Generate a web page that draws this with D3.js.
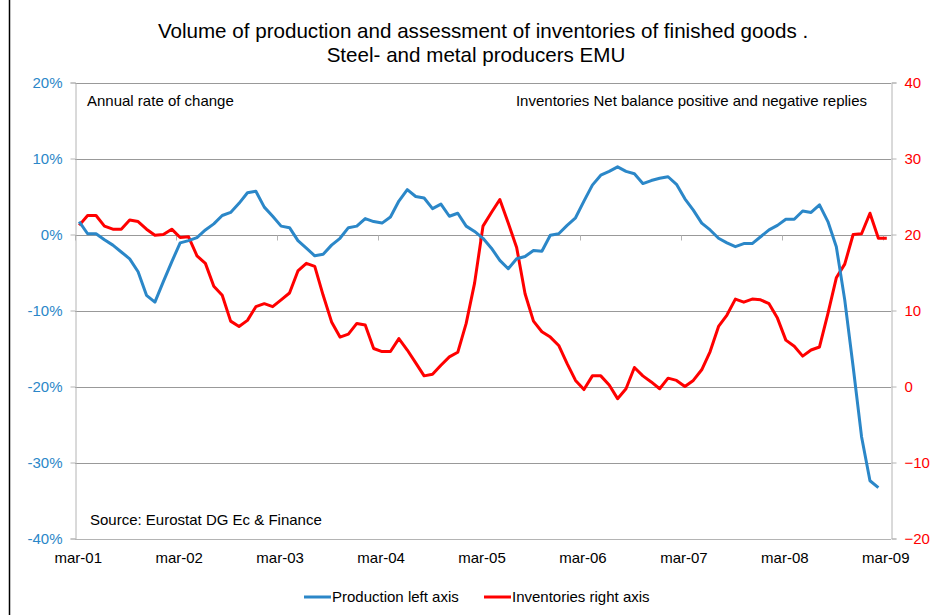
<!DOCTYPE html>
<html>
<head>
<meta charset="utf-8">
<script src="https://cdn.jsdelivr.net/npm/d3@7"></script>
<style>
  body { margin: 0; background: #fff; }
  text { font-family: "Liberation Sans", Arial, Helvetica, sans-serif; }
</style>
</head>
<body>
<div id="chart"></div>
<script>
// monthly series, mar-01 .. mar-09
const monthNames = ['jan','feb','mar','apr','may','jun','jul','aug','sep','oct','nov','dec'];
const months = [];
for (let k = 0; k < 97; k++) {
  const m = (2 + k) % 12;
  const yr = 1 + Math.floor((2 + k) / 12);
  months.push(monthNames[m] + '-' + String(yr).padStart(2, '0'));
}

// production, annual rate of change (%) - left axis
const production = [
  1.7, 0.1, 0.1, -0.7, -1.4, -2.3, -3.2, -4.9, -8.0, -8.9,
  -6.2, -3.6, -1.1, -0.8, -0.4, 0.6, 1.4, 2.5, 2.9, 4.1,
  5.5, 5.7, 3.6, 2.4, 1.1, 0.9, -0.8, -1.8, -2.8, -2.6,
  -1.4, -0.5, 0.9, 1.1, 2.1, 1.7, 1.5, 2.3, 4.4, 5.9,
  5.0, 4.8, 3.4, 4.0, 2.4, 2.8, 1.1, 0.4, -0.5, -1.8,
  -3.4, -4.5, -3.2, -2.9, -2.1, -2.2, -0.1, 0.1, 1.2, 2.2,
  4.4, 6.5, 7.8, 8.3, 8.9, 8.3, 8.0, 6.7, 7.1, 7.4,
  7.6, 6.6, 4.7, 3.2, 1.5, 0.6, -0.5, -1.1, -1.6, -1.2,
  -1.2, -0.3, 0.6, 1.2, 2.0, 2.0, 3.1, 2.9, 3.9, 1.7,
  -1.6, -8.6, -17.4, -26.6, -32.4, -33.3
];

// inventories, net balance - right axis
const inventories = [
  21.2, 22.5, 22.5, 21.1, 20.7, 20.7, 21.9, 21.7, 20.7, 19.9,
  20.0, 20.7, 19.6, 19.7, 17.2, 16.2, 13.2, 12.0, 8.6, 7.9,
  8.7, 10.5, 10.9, 10.5, 11.4, 12.3, 15.2, 16.2, 15.8, 12.0,
  8.5, 6.5, 6.9, 8.3, 8.1, 5.0, 4.6, 4.6, 6.3, 4.8,
  3.1, 1.4, 1.6, 2.8, 3.9, 4.5, 8.3, 13.6, 21.1, 22.9,
  24.6, 21.5, 18.3, 12.2, 8.6, 7.2, 6.5, 5.4, 3.0, 0.8,
  -0.4, 1.4, 1.4, 0.2, -1.6, -0.3, 2.5, 1.4, 0.6, -0.3,
  1.1, 0.8, 0.0, 0.8, 2.2, 4.6, 7.9, 9.4, 11.5, 11.1,
  11.5, 11.4, 10.9, 9.0, 6.1, 5.3, 4.0, 4.8, 5.2, 9.6,
  14.3, 16.1, 20.0, 20.1, 22.8, 19.5, 19.5
];

const leftTicks = [20, 10, 0, -10, -20, -30, -40];
const rightTicks = [40, 30, 20, 10, 0, -10, -20];

const width = 932, height = 615;
const plot = { left: 75, right: 891, top: 82.5, bottom: 538.5 };
const blue = '#2b87c8';
const red = '#ff0000';

const svg = d3.select('#chart').append('svg')
  .attr('width', width)
  .attr('height', height);

// frame
svg.append('line')
  .attr('x1', 9.5).attr('x2', 9.5)
  .attr('y1', 0).attr('y2', height)
  .attr('stroke', '#000').attr('stroke-width', 1.5);

const x = d3.scaleBand()
  .domain(months)
  .range([plot.left, plot.right])
  .padding(0);

const yL = d3.scaleLinear().domain([-40, 20]).range([plot.bottom, plot.top]);
const yR = d3.scaleLinear().domain([-20, 40]).range([plot.bottom, plot.top]);

// gridlines
svg.append('g')
  .selectAll('line')
  .data(leftTicks)
  .join('line')
    .attr('x1', plot.left).attr('x2', plot.right)
    .attr('y1', d => Math.round(yL(d)) + 0.5)
    .attr('y2', d => Math.round(yL(d)) + 0.5)
    .attr('stroke', d => d === -40 ? '#b4b4b4' : '#999')
    .attr('stroke-width', 1);

// left axis
const leftAxis = svg.append('g')
  .attr('transform', 'translate(' + (plot.left + 0.5) + ',0)')
  .call(d3.axisLeft(yL).tickValues(leftTicks).tickSize(5).tickPadding(8)
    .tickFormat(d => d + '%'));
leftAxis.select('.domain').attr('stroke', '#b4b4b4');
leftAxis.selectAll('.tick line').attr('stroke', '#b4b4b4');
leftAxis.selectAll('text')
  .style('font-size', '15px')
  .attr('fill', blue);

// right axis
const rightAxis = svg.append('g')
  .attr('transform', 'translate(' + (plot.right + 0.5) + ',0)')
  .call(d3.axisRight(yR).tickValues(rightTicks).tickSize(5).tickPadding(8));
rightAxis.select('.domain').attr('stroke', '#b4b4b4');
rightAxis.selectAll('.tick line').attr('stroke', '#b4b4b4');
rightAxis.selectAll('text')
  .style('font-size', '15px')
  .attr('fill', red);

// x tick marks on the zero line, at year boundaries
const marLabels = months.filter(m => m.startsWith('mar'));
svg.append('g')
  .selectAll('line')
  .data(marLabels)
  .join('line')
    .attr('x1', d => Math.round(x(d)) + 0.5)
    .attr('x2', d => Math.round(x(d)) + 0.5)
    .attr('y1', Math.round(yL(0)) + 0.5)
    .attr('y2', Math.round(yL(0)) + 5.5)
    .attr('stroke', '#b4b4b4');

// x labels at the bottom
const xAxis = svg.append('g')
  .attr('transform', 'translate(-1,' + plot.bottom + ')')
  .call(d3.axisBottom(x).tickValues(marLabels).tickSize(0).tickPadding(14));
xAxis.select('.domain').remove();
xAxis.selectAll('text')
  .style('font-size', '15px')
  .attr('fill', '#000');

// lines
const cx = d => x(d) + x.bandwidth() / 2;

const prodLine = d3.line()
  .x((d, i) => cx(months[i]))
  .y(d => yL(d));
const invLine = d3.line()
  .x((d, i) => cx(months[i]))
  .y(d => yR(d));

svg.append('path')
  .datum(inventories)
  .attr('d', invLine)
  .attr('fill', 'none')
  .attr('stroke', red)
  .attr('stroke-width', 3)
  .attr('stroke-linejoin', 'round');

svg.append('path')
  .datum(production)
  .attr('d', prodLine)
  .attr('fill', 'none')
  .attr('stroke', blue)
  .attr('stroke-width', 3)
  .attr('stroke-linejoin', 'round');

// title
const title = svg.append('text')
  .attr('text-anchor', 'middle')
  .style('font-size', '20.6px')
  .attr('fill', '#000');
title.append('tspan').attr('x', 483).attr('y', 38)
  .text('Volume of production and assessment of inventories of finished goods .');
title.append('tspan').attr('x', 476).attr('y', 62)
  .text('Steel- and metal producers EMU');

// notes
svg.append('text')
  .attr('x', 87).attr('y', 106)
  .style('font-size', '15px')
  .text('Annual rate of change');
svg.append('text')
  .attr('x', 867).attr('y', 106)
  .attr('text-anchor', 'end')
  .style('font-size', '15px')
  .text('Inventories Net balance positive and negative replies');
svg.append('text')
  .attr('x', 90).attr('y', 525)
  .style('font-size', '15px')
  .text('Source: Eurostat DG Ec & Finance');

// legend
const legend = [
  { name: 'Production left axis', color: blue, x: 304 },
  { name: 'Inventories right axis', color: red, x: 484 }
];
const lg = svg.append('g')
  .selectAll('g')
  .data(legend)
  .join('g')
    .attr('transform', d => 'translate(' + d.x + ',597)');
lg.append('line')
  .attr('x1', 0).attr('x2', 27)
  .attr('stroke', d => d.color)
  .attr('stroke-width', 3);
lg.append('text')
  .attr('x', 28).attr('y', 5)
  .style('font-size', '15px')
  .text(d => d.name);
</script>
</body>
</html>
